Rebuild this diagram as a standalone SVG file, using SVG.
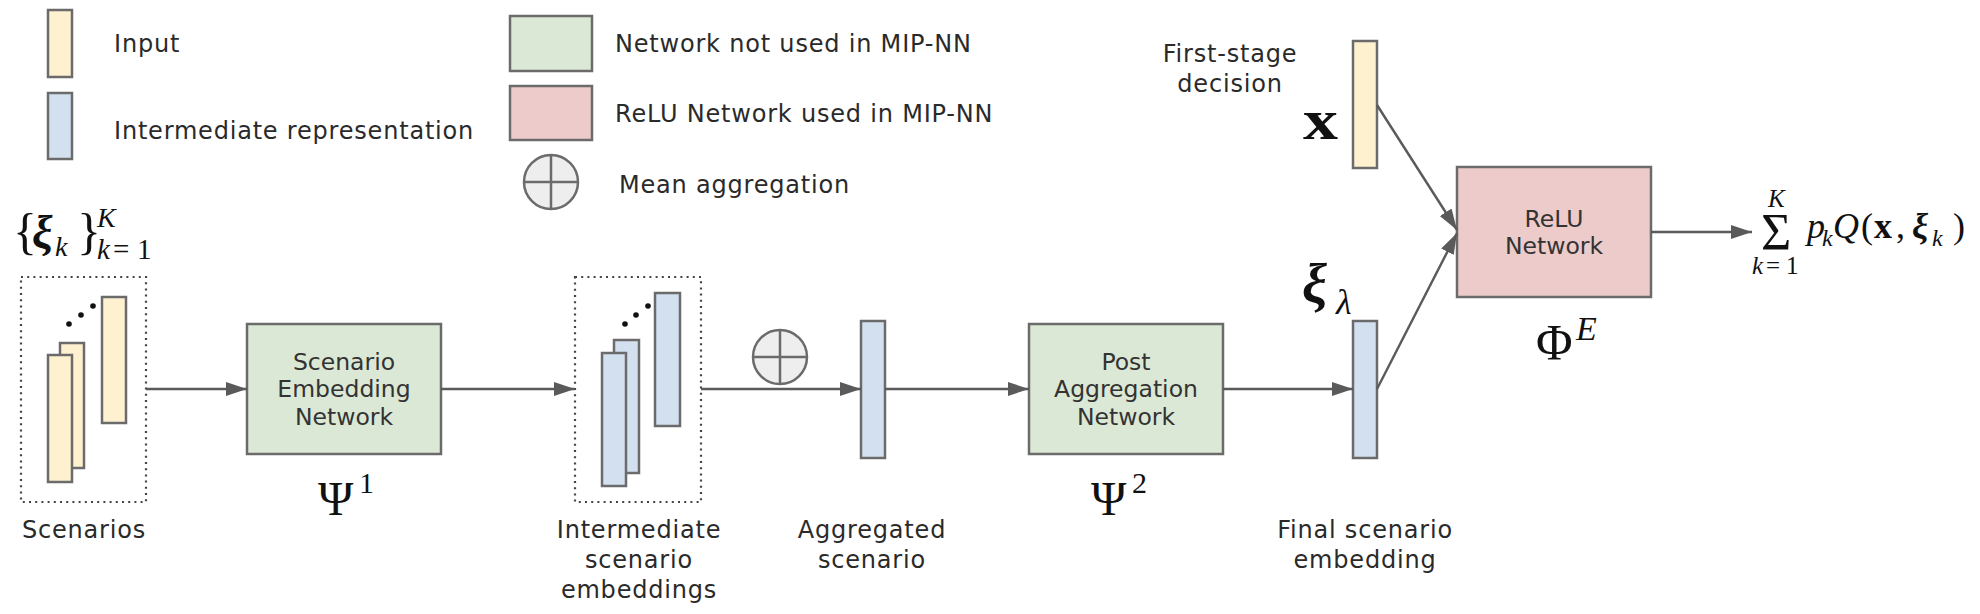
<svg xmlns="http://www.w3.org/2000/svg" width="1980" height="614" viewBox="0 0 1980 614">
<defs>
<style>
.lbl{font-family:"DejaVu Sans",Verdana,sans-serif;font-size:24px;letter-spacing:0.8px;fill:#2a2a2a}
.nt{font-family:"DejaVu Sans",Verdana,sans-serif;font-size:23.5px;fill:#333;text-anchor:middle}
.m{font-family:"Liberation Serif","Times New Roman",serif;fill:#111}
.it{font-style:italic}
.bf{font-weight:bold}
.yel{fill:#fdf1cf;stroke:#6b6b6b;stroke-width:2.5}
.blu{fill:#d3e0f0;stroke:#6b6b6b;stroke-width:2.5}
.grn{fill:#dbe8d5;stroke:#6b6b6b;stroke-width:2.5}
.pnk{fill:#eccbca;stroke:#6b6b6b;stroke-width:2.5}
.agg{fill:#eeeeee;stroke:#6b6b6b;stroke-width:2.5}
.dot{fill:none;stroke:#444;stroke-width:2.2;stroke-dasharray:2 4.2}
.con{fill:none;stroke:#5a5a5a;stroke-width:2.4;marker-end:url(#ah)}
</style>
<marker id="ah" markerUnits="userSpaceOnUse" markerWidth="22" markerHeight="16" refX="21" refY="7" orient="auto">
<path d="M0,0 L21,7 L0,14 z" fill="#5a5a5a"/>
</marker>
</defs>
<rect width="1980" height="614" fill="#ffffff"/>

<g id="legend">
<rect class="yel" x="48" y="10" width="24" height="67"/>
<text class="lbl" x="114" y="52">Input</text>
<rect class="blu" x="48" y="93" width="24" height="66"/>
<text class="lbl" x="114" y="139">Intermediate representation</text>
<rect class="grn" x="510" y="16" width="82" height="55"/>
<text class="lbl" x="615" y="52">Network not used in MIP-NN</text>
<rect class="pnk" x="510" y="86" width="82" height="54"/>
<text class="lbl" x="615" y="122">ReLU Network used in MIP-NN</text>
<circle class="agg" cx="551" cy="182" r="27"/>
<path d="M524,182 H578 M551,155 V209" stroke="#6b6b6b" stroke-width="2.5"/>
<text class="lbl" x="619" y="193">Mean aggregation</text>
</g>

<g id="scenarios">
<text class="m" font-size="50"><tspan x="13" y="248">{</tspan><tspan class="it bf" x="32" y="248" font-size="46">ξ</tspan><tspan class="it" x="55" y="256" font-size="28">k</tspan><tspan x="77" y="248">}</tspan><tspan class="it" x="97" y="227" font-size="28">K</tspan><tspan class="it" x="97" y="259" font-size="29">k</tspan><tspan x="113" y="259" font-size="29">=</tspan><tspan x="137" y="259" font-size="29">1</tspan></text>
<rect class="dot" x="21" y="277" width="125" height="225"/>
<rect class="yel" x="102" y="297" width="24" height="126"/>
<rect class="yel" x="60" y="343" width="24" height="125"/>
<rect class="yel" x="48" y="355" width="24" height="127"/>
<circle cx="69" cy="324" r="2.8" fill="#111"/>
<circle cx="81" cy="315" r="2.8" fill="#111"/>
<circle cx="93" cy="306" r="2.8" fill="#111"/>
<text class="lbl" x="84" y="538" text-anchor="middle">Scenarios</text>
</g>

<g id="psi1">
<rect class="grn" x="247" y="324" width="194" height="130"/>
<text class="nt" x="344" y="370">Scenario</text>
<text class="nt" x="344" y="397">Embedding</text>
<text class="nt" x="344" y="425">Network</text>
<text class="m" font-size="48"><tspan x="318" y="515">Ψ</tspan><tspan x="359" y="493" font-size="30">1</tspan></text>
</g>

<g id="intermediate">
<rect class="dot" x="575" y="277" width="126" height="225"/>
<rect class="blu" x="655" y="293" width="25" height="133"/>
<rect class="blu" x="614" y="340" width="25" height="133"/>
<rect class="blu" x="602" y="353" width="24" height="133"/>
<circle cx="625" cy="324" r="2.8" fill="#111"/>
<circle cx="636" cy="315" r="2.8" fill="#111"/>
<circle cx="648" cy="306" r="2.8" fill="#111"/>
<text class="lbl" text-anchor="middle"><tspan x="639" y="538">Intermediate</tspan><tspan x="639" y="568">scenario</tspan><tspan x="639" y="598">embeddings</tspan></text>
</g>

<g id="mean">
<circle class="agg" cx="780" cy="357" r="27"/>
<path d="M753,357 H807 M780,330 V384" stroke="#6b6b6b" stroke-width="2.5"/>
</g>

<g id="aggregated">
<rect class="blu" x="861" y="321" width="24" height="137"/>
<text class="lbl" text-anchor="middle"><tspan x="872" y="538">Aggregated</tspan><tspan x="872" y="568">scenario</tspan></text>
</g>

<g id="psi2">
<rect class="grn" x="1029" y="324" width="194" height="130"/>
<text class="nt" x="1126" y="370">Post</text>
<text class="nt" x="1126" y="397">Aggregation</text>
<text class="nt" x="1126" y="425">Network</text>
<text class="m" font-size="48"><tspan x="1091" y="515">Ψ</tspan><tspan x="1132" y="493" font-size="30">2</tspan></text>
</g>

<g id="final">
<rect class="blu" x="1353" y="321" width="24" height="137"/>
<text class="m"><tspan class="it bf" x="1302" y="303" font-size="56">ξ</tspan><tspan class="it" x="1336" y="314" font-size="36">λ</tspan></text>
<text class="lbl" text-anchor="middle"><tspan x="1365" y="538">Final scenario</tspan><tspan x="1365" y="568">embedding</tspan></text>
</g>

<g id="first-stage">
<text class="lbl" text-anchor="middle"><tspan x="1230" y="62">First-stage</tspan><tspan x="1230" y="92">decision</tspan></text>
<rect class="yel" x="1353" y="41" width="24" height="127"/>
<text class="m bf" x="1303" y="139" font-size="58" textLength="35" lengthAdjust="spacingAndGlyphs">x</text>
</g>

<g id="relu">
<rect class="pnk" x="1457" y="167" width="194" height="130"/>
<text class="nt" x="1554" y="227">ReLU</text>
<text class="nt" x="1554" y="254">Network</text>
<text class="m" font-size="50"><tspan x="1536" y="359">Φ</tspan><tspan class="it" x="1576" y="340" font-size="34">E</tspan></text>
</g>

<g id="output">
<text class="m" font-size="36"><tspan x="1761" y="250" font-size="52">Σ</tspan><tspan class="it" x="1768" y="207" font-size="25">K</tspan><tspan class="it" x="1752" y="274" font-size="25">k</tspan><tspan x="1766" y="274" font-size="25">=</tspan><tspan x="1786" y="274" font-size="25">1</tspan><tspan class="it" x="1807" y="238">p</tspan><tspan class="it" x="1822" y="246" font-size="24">k</tspan><tspan class="it" x="1833" y="238">Q</tspan><tspan x="1861" y="238">(</tspan><tspan class="bf" x="1874" y="238">x</tspan><tspan x="1896" y="238">,</tspan><tspan class="it bf" x="1912" y="238">ξ</tspan><tspan class="it" x="1932" y="246" font-size="24">k</tspan><tspan x="1953" y="238">)</tspan></text>
</g>

<g id="connectors">
<line class="con" x1="146" y1="389" x2="247" y2="389"/>
<line class="con" x1="441" y1="389" x2="575" y2="389"/>
<line class="con" x1="701" y1="389" x2="861" y2="389"/>
<line class="con" x1="885" y1="389" x2="1029" y2="389"/>
<line class="con" x1="1223" y1="389" x2="1353" y2="389"/>
<line class="con" x1="1377" y1="105" x2="1457" y2="230"/>
<line class="con" x1="1377" y1="389" x2="1457" y2="233"/>
<line class="con" x1="1651" y1="232" x2="1752" y2="232"/>
</g>
</svg>
